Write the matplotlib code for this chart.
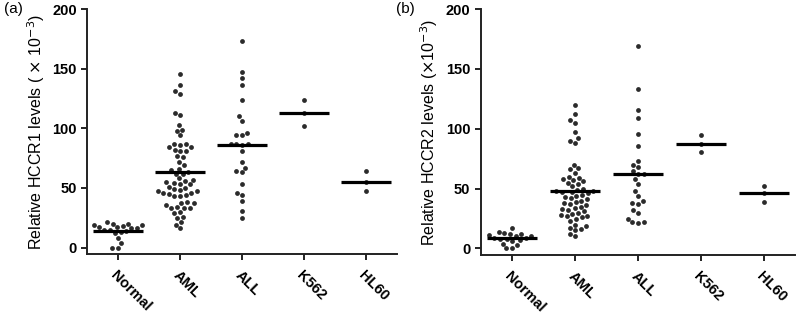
import numpy as np
import matplotlib
matplotlib.use('Agg')
import matplotlib.pyplot as plt
from matplotlib import font_manager

# pick a sans family that really has a bold face
bold_family = 'DejaVu Sans'
for fam in ['Liberation Sans', 'Arimo', 'Roboto', 'Open Sans', 'Lato', 'Noto Sans']:
    try:
        path = font_manager.findfont(font_manager.FontProperties(family=fam, weight='bold'),
                                     fallback_to_default=False)
        if 'bold' in path.lower():
            bold_family = fam
            break
    except Exception:
        pass

plt.rcParams['font.family'] = ['Liberation Sans', 'DejaVu Sans']

categories = ['Normal', 'AML', 'ALL', 'K562', 'HL60']

# panel (a) HCCR1
a_normal = [21, 20, 20, 19, 19, 18, 17, 17, 16, 16, 15, 15, 14, 13, 12, 8, 4, 0, 0]
a_aml = [146, 136, 131, 129, 113, 111, 103, 99, 98, 94, 87, 87, 86, 84, 84, 82, 81, 81, 77, 76,
         72, 69, 66, 65, 63, 62, 62, 58, 57, 56, 55, 54, 53, 53, 51, 50, 49, 48, 47, 47,
         46, 46, 45, 44, 43, 43, 38, 37, 37, 36, 34, 33, 33, 33, 30, 29, 26, 25, 21, 19, 16]
a_all = [173, 147, 142, 136, 124, 110, 106, 96, 94, 94, 87, 87, 87, 86, 81, 72, 67, 64, 63,
         53, 46, 44, 39, 31, 25]
a_k562 = [124, 113, 102]
a_hl60 = [64, 55, 47]
a_medians = [14, 63, 86, 113, 55]

# panel (b) HCCR2
b_normal = [17, 14, 13, 12, 12, 11, 10, 10, 9, 9, 8, 8, 7, 6, 4, 3, 0, 0]
b_aml = [120, 112, 107, 105, 97, 92, 90, 88, 70, 67, 66, 63, 60, 59, 58, 57, 56, 55, 54, 52,
         50, 49, 48, 48, 47, 47, 46, 45, 44, 43, 42, 41, 40, 39, 38, 37, 36, 35, 34, 33,
         32, 31, 30, 29, 28, 27, 27, 26, 25, 23, 20, 19, 17, 16, 15, 12, 10]
b_all = [169, 133, 116, 109, 96, 86, 73, 70, 68, 65, 62, 62, 58, 54, 48, 44, 40, 38, 37,
         32, 30, 25, 22, 22, 21]
b_k562 = [95, 87, 81]
b_hl60 = [52, 46, 39]
b_medians = [9, 48, 62, 87, 46]


def swarm(values, px_per_unit, d):
    # simple beeswarm: offsets in pixels
    placed = []
    out = np.zeros(len(values))
    order = np.argsort(values)
    for i in order:
        y = values[i] * px_per_unit
        cands = [0.0]
        for (xj, yj) in placed:
            dy = y - yj
            if abs(dy) < d:
                dx = np.sqrt(d * d - dy * dy)
                cands += [xj + dx, xj - dx]
        cands.sort(key=lambda c: (abs(c), c))
        for c in cands:
            ok = all((c - xj) ** 2 + (y - yj) ** 2 >= d * d - 1e-6 for (xj, yj) in placed)
            if ok:
                break
        placed.append((c, y))
        out[i] = c
    return out


def draw_panel(ax, groups, medians, ylabel, tag):
    px_y = 1.19   # pixels per data unit
    px_x = 62.0   # pixels per category
    for i, vals in enumerate(groups):
        vals = np.array(vals, dtype=float)
        off = swarm(vals, px_y, 5.8) / px_x
        ax.scatter(i + off, vals, s=12, color='#2b2b2b', linewidths=0, zorder=3)
        ax.plot([i - 0.4, i + 0.4], [medians[i], medians[i]], color='black', lw=2.3,
                solid_capstyle='butt', zorder=4)
    ax.set_xlim(-0.5, 4.5)
    ax.set_ylim(-5.5, 200)
    yt = [0, 50, 100, 150, 200]
    ax.set_yticks(yt)
    ax.set_yticklabels([str(v) for v in yt], family=bold_family, fontweight='bold', fontsize=10.5)
    ax.set_xticks(range(len(categories)))
    ax.set_xticklabels(categories, rotation=-45, ha='left', rotation_mode='anchor',
                       family=bold_family, fontsize=10.5, fontweight='bold')
    ax.spines['top'].set_visible(False)
    ax.spines['right'].set_visible(False)
    for s in ['left', 'bottom']:
        ax.spines[s].set_linewidth(1.4)
        ax.spines[s].set_color('#222222')
    ax.tick_params(direction='out', length=4, width=1.4, color='#222222')
    ax.tick_params(axis='x', pad=6)
    ax.set_ylabel(ylabel, fontsize=11.5)
    ax.text(-0.27, 1.0, tag, transform=ax.transAxes, fontsize=11, va='center')


fig = plt.figure(figsize=(8, 3.16), dpi=100)
ax1 = fig.add_axes([0.109, 0.196, 0.387, 0.775])
ax2 = fig.add_axes([0.601, 0.193, 0.393, 0.778])

draw_panel(ax1, [a_normal, a_aml, a_all, a_k562, a_hl60], a_medians,
           r'Relative HCCR1 levels ( $\times$ 10$^{-3}$)', '(a)')
draw_panel(ax2, [b_normal, b_aml, b_all, b_k562, b_hl60], b_medians,
           r'Relative HCCR2 levels ($\times$10$^{-3}$)', '(b)')

fig.savefig('out.png', dpi=100)
